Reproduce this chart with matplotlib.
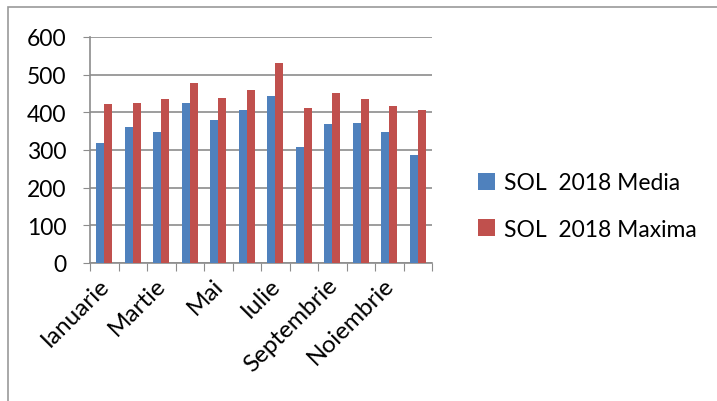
import matplotlib.pyplot as plt
import matplotlib.transforms as mtransforms
import numpy as np
from matplotlib.patches import Rectangle

luni = ['Ianuarie', 'Februarie', 'Martie', 'Aprilie', 'Mai', 'Iunie',
        'Iulie', 'August', 'Septembrie', 'Octombrie', 'Noiembrie', 'Decembrie']
media = [318, 362, 347, 425, 380, 406, 444, 307, 369, 372, 347, 286]
maxima = [421, 425, 436, 479, 437, 458, 530, 411, 452, 435, 416, 406]
yticks = [0, 100, 200, 300, 400, 500, 600]

plt.rcParams['font.family'] = ['Lato', 'DejaVu Sans']
fig = plt.figure(figsize=(7.17, 4.02), dpi=100)
ax = fig.add_axes([90 / 717, 1 - 264 / 402, 342 / 717, 226 / 402])

# chart area border (only left and top visible in the original)
fig.add_artist(Rectangle((8 / 717, -0.1), 1.2, 1.1 - 8 / 402, transform=fig.transFigure,
                         fill=False, edgecolor='#999999', linewidth=1.2))

x = np.arange(len(luni))
w = 0.28
ax.bar(x - w / 2, media, w, color='#4F81BD', label='SOL  2018 Media', zorder=3)
ax.bar(x + w / 2, maxima, w, color='#C0504D', label='SOL  2018 Maxima', zorder=3)

ax.set_xlim(-0.5, len(luni) - 0.5)
ax.set_ylim(0, 600)
ax.set_yticks(yticks)
ax.tick_params(axis='y', labelsize=16.5, length=5, color='#8c8c8c', pad=12)
ax.grid(axis='y', color='#8c8c8c', linewidth=1.2, zorder=0)

# category boundaries as ticks, labels on every second month
ax.set_xticks(np.arange(-0.5, len(luni)), minor=False)
ax.set_xticklabels([])
ax.set_xticks(x[::2], minor=True)
ax.set_xticklabels(luni[::2], minor=True, rotation=45, ha='right', rotation_mode='anchor', fontsize=17.5)
ax.tick_params(axis='x', which='major', length=6, color='#8c8c8c')
ax.tick_params(axis='x', which='minor', length=0, pad=8)
shift = mtransforms.ScaledTranslation(-6 / 100, 0, fig.dpi_scale_trans)
for lbl in ax.get_xticklabels(minor=True):
    lbl.set_transform(lbl.get_transform() + shift)

for s in ['top', 'right']:
    ax.spines[s].set_visible(False)
for s in ['left', 'bottom']:
    ax.spines[s].set_color('#8c8c8c')
    ax.spines[s].set_linewidth(1.2)

fig.legend(loc='center left', bbox_to_anchor=(457 / 717, 1 - 207 / 402), frameon=False,
           fontsize=16.5, handlelength=0.75, handleheight=0.75, handletextpad=0.4,
           labelspacing=1.1)

fig.savefig('out.png', dpi=100)
